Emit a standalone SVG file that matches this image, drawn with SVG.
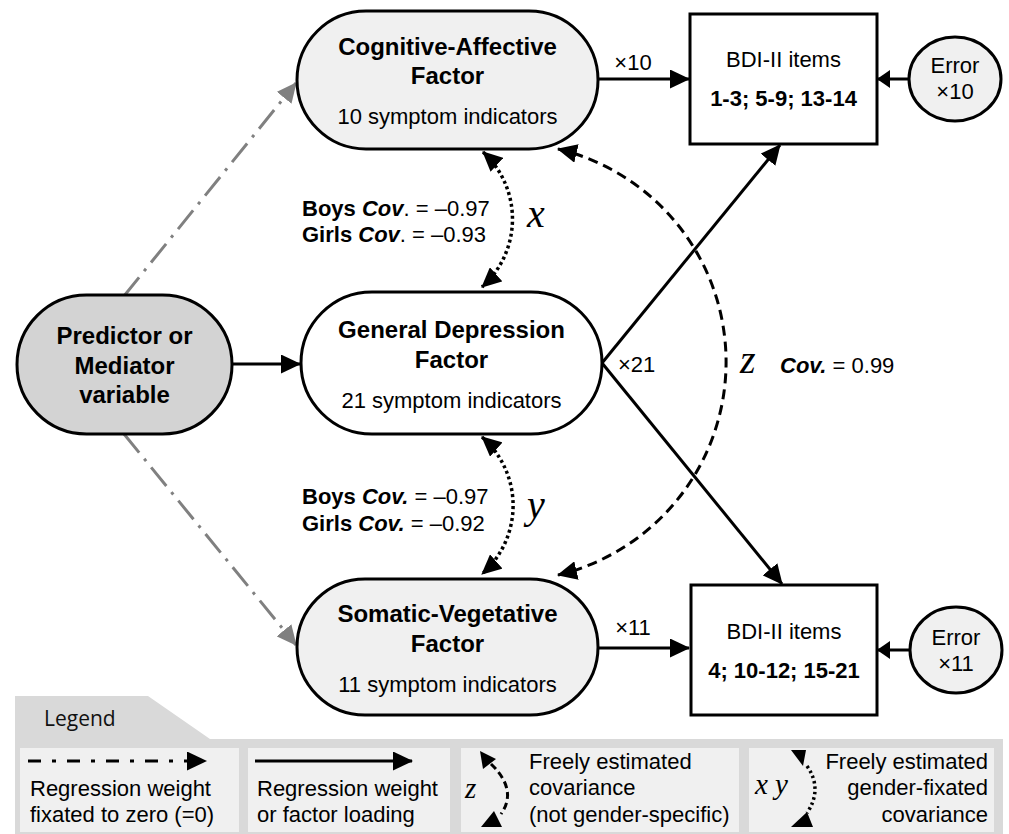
<svg xmlns="http://www.w3.org/2000/svg" width="1009" height="834" viewBox="0 0 1009 834">
<style>
text { font-family:"Liberation Sans", Arial, sans-serif; fill:#000; }
.title { font-size:24px; font-weight:bold; text-anchor:middle; }
.sub { font-size:22px; text-anchor:middle; }
.lbl { font-size:22px; }
.bold { font-weight:bold; }
.bi { font-weight:bold; font-style:italic; }
.math { font-family:"Liberation Serif", "DejaVu Serif", serif; font-style:italic; font-size:40px; }
.mathS { font-family:"Liberation Serif", "DejaVu Serif", serif; font-style:italic; font-size:29px; }
.shape { stroke:#000; stroke-width:3; }
.solid { stroke:#000; stroke-width:3; fill:none; }
.dashdot { stroke:#808080; stroke-width:3; fill:none; stroke-dasharray:24 8 3 8; }
.dashdotK { stroke:#000; stroke-width:3; fill:none; stroke-dasharray:13 11 4 11; }
.dashed { stroke:#000; stroke-width:3; fill:none; stroke-dasharray:10 6; }
.dotted { stroke:#000; stroke-width:3.5; fill:none; stroke-dasharray:3 3; }
.legtxt { font-size:22px; }
</style>
<defs>
<marker id="ah" markerUnits="userSpaceOnUse" viewBox="0 0 20 19" refX="19" refY="9.5" markerWidth="20" markerHeight="19" orient="auto-start-reverse"><path d="M0,0 L20,9.5 L0,19 z" fill="#000"/></marker>
<marker id="ahs" markerUnits="userSpaceOnUse" viewBox="0 0 13 18" refX="12" refY="9" markerWidth="13" markerHeight="18" orient="auto-start-reverse"><path d="M0,0 L13,9 L0,18 z" fill="#000"/></marker>
<marker id="ahg" markerUnits="userSpaceOnUse" viewBox="0 0 20 19" refX="19" refY="9.5" markerWidth="20" markerHeight="19" orient="auto-start-reverse"><path d="M0,0 L20,9.5 L0,19 z" fill="#808080"/></marker>
</defs>

<g id="connectors">
  <path class="dashdot" d="M124,296 L296,83" marker-end="url(#ahg)"/>
  <path class="dashdot" d="M124,434 L296,645" marker-end="url(#ahg)"/>
  <path class="solid" d="M232,364 L300,364" marker-end="url(#ah)"/>
  <path class="solid" d="M598,79 L689,79" marker-end="url(#ah)"/>
  <path class="solid" d="M598,648 L689,648" marker-end="url(#ah)"/>
  <path class="solid" d="M909,79 L878,79" marker-end="url(#ahs)"/>
  <path class="solid" d="M910,650 L878,650" marker-end="url(#ahs)"/>
  <path class="solid" d="M602,363 L780,145" marker-end="url(#ah)"/>
  <path class="solid" d="M602,363 L782,584" marker-end="url(#ah)"/>
  <path class="dashed" d="M558,149 A219,219 0 0 1 558,575" marker-start="url(#ah)" marker-end="url(#ah)"/>
  <path class="dotted" d="M483,152 A91,91 0 0 1 482,287" marker-start="url(#ah)" marker-end="url(#ah)"/>
  <path class="dotted" d="M482,437 A91,91 0 0 1 482,574" marker-start="url(#ah)" marker-end="url(#ah)"/>
  <text class="lbl" x="633" y="70" text-anchor="middle">×10</text>
  <text class="lbl" x="633" y="635" text-anchor="middle">×11</text>
  <text class="lbl" x="618" y="372">×21</text>
  <text class="math" x="740" y="373">z</text>
  <text class="lbl" x="780" y="373"><tspan class="bi">Cov.</tspan> = 0.99</text>
  <text class="math" x="527" y="227">x</text>
  <text class="lbl" x="302" y="216"><tspan class="bold">Boys </tspan><tspan class="bi">Cov</tspan>. = –0.97</text>
  <text class="lbl" x="302" y="242"><tspan class="bold">Girls </tspan><tspan class="bi">Cov</tspan>. = –0.93</text>
  <text class="math" x="527" y="518">y</text>
  <text class="lbl" x="302" y="504"><tspan class="bold">Boys </tspan><tspan class="bi">Cov.</tspan> = –0.97</text>
  <text class="lbl" x="302" y="531"><tspan class="bold">Girls </tspan><tspan class="bi">Cov.</tspan> = –0.92</text>
</g>

<g id="cognitive">
  <rect class="shape" x="297" y="11" width="301" height="138" rx="69" fill="#f0f0f0"/>
  <text class="title" x="447.5" y="55">Cognitive-Affective</text>
  <text class="title" x="447.5" y="84">Factor</text>
  <text class="sub" x="447.5" y="124">10 symptom indicators</text>
</g>

<g id="general">
  <rect class="shape" x="301" y="292" width="301" height="142" rx="71" fill="#ffffff"/>
  <text class="title" x="451.5" y="338">General Depression</text>
  <text class="title" x="451.5" y="368">Factor</text>
  <text class="sub" x="451.5" y="408">21 symptom indicators</text>
</g>

<g id="somatic">
  <rect class="shape" x="297" y="579" width="301" height="136" rx="68" fill="#f0f0f0"/>
  <text class="title" x="447.5" y="622">Somatic-Vegetative</text>
  <text class="title" x="447.5" y="652">Factor</text>
  <text class="sub" x="447.5" y="692">11 symptom indicators</text>
</g>

<g id="predictor">
  <rect class="shape" x="17" y="295" width="215" height="139" rx="69.5" fill="#d3d3d3"/>
  <text class="title" x="124.5" y="344">Predictor or</text>
  <text class="title" x="124.5" y="374">Mediator</text>
  <text class="title" x="124.5" y="403">variable</text>
</g>

<g id="bdi-top">
  <rect class="shape" x="690" y="14" width="187" height="130" fill="#ffffff"/>
  <text class="sub" x="783.5" y="67">BDI-II items</text>
  <text class="sub bold" x="783.5" y="106">1-3; 5-9; 13-14</text>
</g>

<g id="bdi-bottom">
  <rect class="shape" x="691" y="585" width="186" height="130" fill="#ffffff"/>
  <text class="sub" x="784" y="639">BDI-II items</text>
  <text class="sub bold" x="784" y="678">4; 10-12; 15-21</text>
</g>

<g id="error-top">
  <ellipse class="shape" cx="955" cy="79" rx="46" ry="42" fill="#f0f0f0"/>
  <text class="sub" x="955" y="73">Error</text>
  <text class="sub" x="955" y="99">×10</text>
</g>

<g id="error-bottom">
  <ellipse class="shape" cx="956" cy="650" rx="46" ry="43" fill="#f0f0f0"/>
  <text class="sub" x="956" y="645">Error</text>
  <text class="sub" x="956" y="671">×11</text>
</g>

<g id="legend">
  <path d="M15,696 L148,696 L210,739 L1003,739 L1003,834 L15,834 z" fill="#d9d9d9"/>
  <text x="44" y="726" style="font-family:'Open Sans', sans-serif; font-size:21px; fill:#111">Legend</text>
  <rect x="20" y="748" width="219" height="84" fill="#f0f0f0"/>
  <rect x="248" y="748" width="202" height="84" fill="#f0f0f0"/>
  <rect x="461" y="748" width="278" height="84" fill="#f0f0f0"/>
  <rect x="749" y="748" width="245" height="84" fill="#f0f0f0"/>
  <path class="dashdotK" d="M28,761 L206,761" marker-end="url(#ah)"/>
  <text class="legtxt" x="30" y="796">Regression weight</text>
  <text class="legtxt" x="30" y="822">fixated to zero (=0)</text>
  <path class="solid" d="M255,761 L412,761" marker-end="url(#ah)"/>
  <text class="legtxt" x="257" y="796">Regression weight</text>
  <text class="legtxt" x="257" y="822">or factor loading</text>
  <text class="mathS" x="465" y="798">z</text>
  <polygon points="480,751 496,759 483,769" fill="#000"/>
  <path class="dashed" d="M491,764 Q518,790 501,814" style="stroke-dasharray:7 4"/>
  <polygon points="481,827 502,827 494,811" fill="#000"/>
  <text class="legtxt" x="529" y="769">Freely estimated</text>
  <text class="legtxt" x="529" y="795">covariance</text>
  <text class="legtxt" x="529" y="822">(not gender-specific)</text>
  <text class="mathS" x="755" y="794">x y</text>
  <polygon points="791,750 806,750 803,766" fill="#000"/>
  <path class="dotted" d="M807,766 Q823,789 807,813" style="stroke-dasharray:2.5 3"/>
  <polygon points="791,827 813,827 807,812" fill="#000"/>
  <text class="legtxt" x="988" y="769" text-anchor="end">Freely estimated</text>
  <text class="legtxt" x="988" y="795" text-anchor="end">gender-fixated</text>
  <text class="legtxt" x="988" y="822" text-anchor="end">covariance</text>
</g>
</svg>
